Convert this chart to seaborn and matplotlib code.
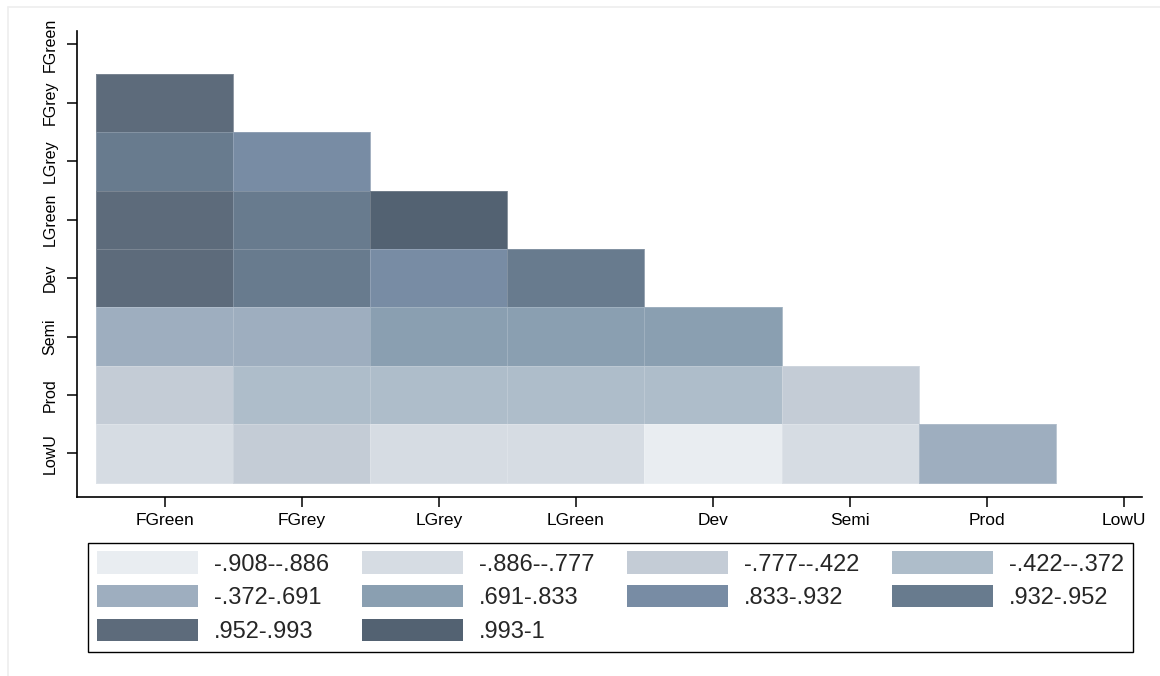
import numpy as np
import pandas as pd
import matplotlib
matplotlib.use("Agg")
import matplotlib.pyplot as plt
import seaborn as sns
from matplotlib.colors import ListedColormap, BoundaryNorm
from matplotlib.patches import Patch
from matplotlib.lines import Line2D

# Variables in matrix order
variables = ["FGreen", "FGrey", "LGrey", "LGreen", "Dev", "Semi", "Prod", "LowU"]

# Lower-triangle correlations: row i holds its correlations with the first i variables
corr_fgreen = []
corr_fgrey = [0.971]
corr_lgrey = [0.945, 0.874]
corr_lgreen = [0.982, 0.948, 0.997]
corr_dev = [0.968, 0.941, 0.889, 0.937]
corr_semi = [0.652, 0.603, 0.772, 0.745, 0.812]
corr_prod = [-0.512, -0.389, -0.395, -0.381, -0.401, -0.633]
corr_lowu = [-0.812, -0.701, -0.853, -0.842, -0.908, -0.869, -0.295]

# Class boundaries of the shading
cut_points = [-0.908, -0.886, -0.777, -0.422, -0.372, 0.691, 0.833, 0.932, 0.952, 0.993, 1.0]

# One shade per class, light to dark
bin_colors = ["#e9edf1", "#d6dce3", "#c4ccd6", "#aebdca", "#9eaebf",
              "#8a9fb1", "#788ca4", "#687b8e", "#5d6b7b", "#536272"]


def stata_num(v):
    s = f"{v:.3f}".rstrip("0").rstrip(".")
    return s.replace("0.", ".", 1) if s.lstrip("-").startswith("0.") else s


rows = [corr_fgreen, corr_fgrey, corr_lgrey, corr_lgreen,
        corr_dev, corr_semi, corr_prod, corr_lowu]
n = len(variables)
mat = np.full((n, n), np.nan)
for i, r in enumerate(rows):
    mat[i, :len(r)] = r
df = pd.DataFrame(mat, index=variables, columns=variables)

sns.set_style("white")
plt.rcParams["font.family"] = ["Liberation Sans", "DejaVu Sans"]

W, H = 1160, 676
fig = plt.figure(figsize=(W / 100, H / 100), dpi=100)
ax = fig.add_axes([77 / W, 1 - 496.7 / H, (1142 - 77) / W, (496.7 - 30.7) / H])

cmap = ListedColormap(bin_colors)
norm = BoundaryNorm(cut_points, cmap.N)

sns.heatmap(df, mask=df.isna(), cmap=cmap, norm=norm, cbar=False, ax=ax,
            linewidths=0.6, linecolor=(1, 1, 1, 0.18))

ax.set_xlim(-0.14, 7.63)
ax.set_ylim(8.24, 0.265)

for side in ["left", "bottom"]:
    ax.spines[side].set_visible(True)
    ax.spines[side].set_color("black")
    ax.spines[side].set_linewidth(1.2)
for side in ["top", "right"]:
    ax.spines[side].set_visible(False)

ax.tick_params(axis="both", which="major", direction="out", length=7,
               width=1.1, color="black", left=True, bottom=True)
ax.tick_params(axis="x", pad=5)
ax.tick_params(axis="y", pad=7)
ax.set_xticks(np.arange(n) + 0.5)
ax.set_yticks(np.arange(n) + 0.5)
ax.set_xticklabels(variables, rotation=0, fontsize=12.5, color="black",
                   family=["Liberation Sans", "DejaVu Sans"])
ax.set_yticklabels(variables, rotation=90, va="center", fontsize=11.5, color="black",
                   family=["Liberation Sans", "DejaVu Sans"])
ax.set_xlabel("")
ax.set_ylabel("")

# Legend laid out row by row in four columns
labels = [f"{stata_num(a)}-{stata_num(b)}" for a, b in zip(cut_points[:-1], cut_points[1:])]
handles = [Patch(facecolor=c, edgecolor="none") for c in bin_colors]
order = [0, 4, 8, 1, 5, 9, 2, 6, 3, 7]
leg = fig.legend([handles[i] for i in order], [labels[i] for i in order],
                 ncol=4, loc="upper left",
                 bbox_to_anchor=(88 / W, 1 - 542.5 / H, (1133 - 88) / W, 0.0),
                 mode="expand", handlelength=4.28, handleheight=1.06,
                 handletextpad=0.68, labelspacing=0.4, columnspacing=1.4,
                 borderpad=0.38, borderaxespad=0.0, fancybox=False, frameon=True,
                 prop={"family": ["Liberation Sans", "DejaVu Sans"], "size": 17})
frame = leg.get_frame()
frame.set_edgecolor("black")
frame.set_linewidth(1.0)
frame.set_facecolor("white")
frame.set_alpha(1)

# Faint outer graph-region border
fig.add_artist(Line2D([8 / W, 1.0], [1 - 6.5 / H, 1 - 6.5 / H], transform=fig.transFigure,
                      color="#eeeeee", lw=1.2))
fig.add_artist(Line2D([8 / W, 8 / W], [0.0, 1 - 6.5 / H], transform=fig.transFigure,
                      color="#eeeeee", lw=1.2))

fig.savefig("out.png", dpi=100)
